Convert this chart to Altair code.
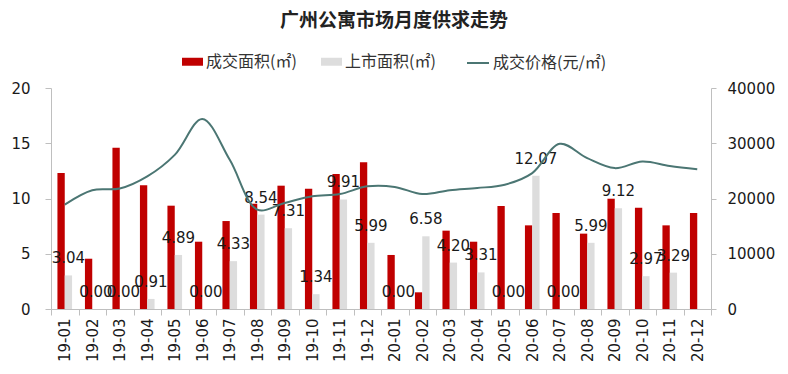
import altair as alt
import pandas as pd

months = ["19-01", "19-02", "19-03", "19-04", "19-05", "19-06", "19-07", "19-08",
          "19-09", "19-10", "19-11", "19-12", "20-01", "20-02", "20-03", "20-04",
          "20-05", "20-06", "20-07", "20-08", "20-09", "20-10", "20-11", "20-12"]
deal_area = [12.31, 4.55, 14.60, 11.19, 9.35, 6.09, 7.96, 9.53, 11.16, 10.89, 12.22, 13.27,
             4.89, 1.51, 7.09, 6.09, 9.32, 7.57, 8.69, 6.82, 9.98, 9.17, 7.57, 8.69]
supply_area = [3.04, 0.00, 0.00, 0.91, 4.89, 0.00, 4.33, 8.54, 7.31, 1.34, 9.91, 5.99,
               0.00, 6.58, 4.20, 3.31, 0.00, 12.07, 0.00, 5.99, 9.12, 2.97, 3.29, None]
price = [18900, 21500, 21800, 24000, 27900, 34400, 27000, 18000, 19200, 20400, 20800, 22200,
         22100, 20800, 21500, 21900, 22500, 24600, 29900, 27300, 25500, 26700, 25900, 25300]

s1 = "成交面积(㎡)"
s2 = "上市面积(㎡)"
s3 = "成交价格(元/㎡)"

bars_df = pd.DataFrame({
    "month": months * 2,
    "series": [s1] * len(months) + [s2] * len(months),
    "value": deal_area + supply_area,
}).dropna()
label_df = bars_df[bars_df["series"] == s2]
line_df = pd.DataFrame({"month": months, "price": price, "series": [s3] * len(months)})

AXIS_GRAY = "#BFBFBF"
TXT = "#1a1a1a"
NUM_FONT = "DejaVu Sans"
CJK_FONT = "Noto Sans CJK SC"

x_enc = alt.X(
    "month:N", sort=months,
    scale=alt.Scale(paddingInner=0, paddingOuter=0),
    axis=alt.Axis(title=None, labelAngle=-90, tickBand="extent", domainColor=AXIS_GRAY,
                  tickColor=AXIS_GRAY, tickSize=6, labelPadding=3, labelFont=NUM_FONT,
                  labelFontSize=15, labelColor=TXT, grid=False),
)
xoff_enc = alt.XOffset(
    "series:N", sort=[s1, s2],
    scale=alt.Scale(domain=[s1, s2], paddingInner=0, paddingOuter=0.88),
)

bars = alt.Chart(bars_df).mark_bar().encode(
    x=x_enc,
    xOffset=xoff_enc,
    y=alt.Y("value:Q", scale=alt.Scale(domain=[0, 20]),
            axis=alt.Axis(orient="left", values=[0, 5, 10, 15, 20], title=None, grid=False,
                          domainColor=AXIS_GRAY, tickColor=AXIS_GRAY, tickSize=6,
                          labelPadding=15, labelFont=NUM_FONT, labelFontSize=15,
                          labelColor=TXT)),
    color=alt.Color("series:N",
                    scale=alt.Scale(domain=[s1, s2], range=["#C00000", "#DDDDDD"]),
                    legend=alt.Legend(title=None, orient="none", legendX=131, legendY=-37,
                                      direction="horizontal",
                                      symbolType="M-1,-0.38H1V0.38H-1Z", symbolSize=441,
                                      symbolStrokeWidth=0, labelFont=CJK_FONT,
                                      labelFontSize=16, labelColor="#333",
                                      columnPadding=24, labelOffset=3, padding=0)),
)

labels = alt.Chart(label_df).mark_text(
    dy=-12, baseline="alphabetic", font=NUM_FONT, fontSize=15, color=TXT
).encode(
    x=x_enc,
    xOffset=xoff_enc,
    y=alt.Y("value:Q", scale=alt.Scale(domain=[0, 20]), axis=None),
    text=alt.Text("value:Q", format=".2f"),
)

line = alt.Chart(line_df).mark_line(interpolate="catmull-rom", strokeWidth=2).encode(
    x=x_enc,
    y=alt.Y("price:Q", scale=alt.Scale(domain=[0, 40000]),
            axis=alt.Axis(orient="right", values=[0, 10000, 20000, 30000, 40000], title=None,
                          grid=False, format="d", domainColor=AXIS_GRAY, tickColor=AXIS_GRAY,
                          tickSize=5, labelPadding=11, labelFont=NUM_FONT, labelFontSize=15,
                          labelColor=TXT)),
    stroke=alt.Stroke("series:N", scale=alt.Scale(domain=[s3], range=["#4B7673"]),
                      legend=alt.Legend(title=None, orient="none", legendX=415, legendY=-37,
                                        symbolType="stroke", symbolSize=484,
                                        symbolStrokeWidth=2, labelFont=CJK_FONT,
                                        labelFontSize=16, labelColor="#333",
                                        labelOffset=3, padding=0)),
)

chart = alt.layer(bars, labels, line).resolve_scale(y="independent").properties(
    width=660, height=221,
    autosize=alt.AutoSizeParams(type="none"),
    padding={"left": 43, "top": 80, "right": 69, "bottom": 57},
    title=alt.Title("广州公寓市场月度供求走势", font=CJK_FONT, fontSize=19, fontWeight="bold",
                    color="#222", anchor="middle", dx=13, offset=20),
).configure_view(stroke=None)

chart.save("out.html", embed_options={"renderer": "svg", "actions": False})
